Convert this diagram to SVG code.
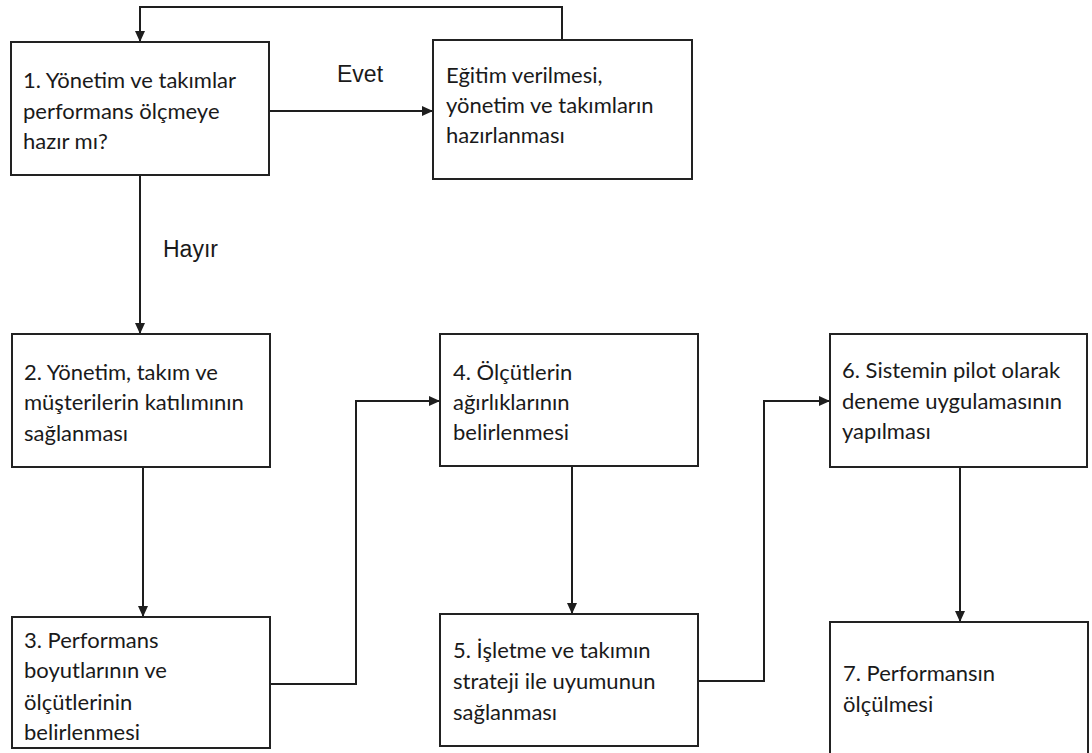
<svg xmlns="http://www.w3.org/2000/svg" width="1092" height="753" viewBox="0 0 1092 753">
  <style>
    .box { fill: #ffffff; stroke: #222222; stroke-width: 2; }
    .lbl { font-family: Lato, "Liberation Sans", sans-serif; font-size: 22px; fill: #1a1a1a; }
    .cond { font-family: "Liberation Sans", Arial, sans-serif; font-size: 23px; fill: #1a1a1a; }
    .wire { fill: none; stroke: #1e1e1e; stroke-width: 2; marker-end: url(#head); }
  </style>
  <defs>
    <marker id="head" markerUnits="userSpaceOnUse" markerWidth="11" markerHeight="10" refX="11" refY="5" orient="auto">
      <path d="M0,0 L11,5 L0,10 Z" fill="#1e1e1e"/>
    </marker>
  </defs>
  <rect width="1092" height="753" fill="#ffffff"/>

  <!-- connectors -->
  <g id="connectors">
    <path class="wire" d="M562,40 V7 H140 V42"/>
    <path class="wire" d="M269,111 H433"/>
    <path class="wire" d="M140,175 V334"/>
    <path class="wire" d="M143,467 V617"/>
    <path class="wire" d="M270,684 H356 V401 H440"/>
    <path class="wire" d="M572,466 V614"/>
    <path class="wire" d="M698,681 H764 V401 H830"/>
    <path class="wire" d="M960,467 V622"/>
    <text class="cond" x="337" y="82">Evet</text>
    <text class="cond" x="163" y="257">Hayır</text>
  </g>

  <g id="step1">
    <rect class="box" x="11" y="42" width="258" height="133"/>
    <text class="lbl" x="23" y="88">1. Yönetim ve takımlar</text>
    <text class="lbl" x="23" y="119">performans ölçmeye</text>
    <text class="lbl" x="23" y="149">hazır mı?</text>
  </g>

  <g id="training">
    <rect class="box" x="433" y="40" width="259" height="139"/>
    <text class="lbl" x="446" y="83">Eğitim verilmesi,</text>
    <text class="lbl" x="446" y="113">yönetim ve takımların</text>
    <text class="lbl" x="446" y="143">hazırlanması</text>
  </g>

  <g id="step2">
    <rect class="box" x="12" y="334" width="258" height="133"/>
    <text class="lbl" x="24" y="380">2. Yönetim, takım ve</text>
    <text class="lbl" x="24" y="410">müşterilerin katılımının</text>
    <text class="lbl" x="24" y="441">sağlanması</text>
  </g>

  <g id="step3">
    <rect class="box" x="12" y="617" width="258" height="131"/>
    <text class="lbl" x="24" y="648">3. Performans</text>
    <text class="lbl" x="24" y="678">boyutlarının ve</text>
    <text class="lbl" x="24" y="710">ölçütlerinin</text>
    <text class="lbl" x="24" y="740">belirlenmesi</text>
  </g>

  <g id="step4">
    <rect class="box" x="440" y="334" width="258" height="132"/>
    <text class="lbl" x="453" y="380">4. Ölçütlerin</text>
    <text class="lbl" x="453" y="410">ağırlıklarının</text>
    <text class="lbl" x="453" y="440">belirlenmesi</text>
  </g>

  <g id="step5">
    <rect class="box" x="440" y="614" width="258" height="132"/>
    <text class="lbl" x="453" y="658">5. İşletme ve takımın</text>
    <text class="lbl" x="453" y="689">strateji ile uyumunun</text>
    <text class="lbl" x="453" y="720">sağlanması</text>
  </g>

  <g id="step6">
    <rect class="box" x="830" y="334" width="257" height="133"/>
    <text class="lbl" x="842" y="378">6. Sistemin pilot olarak</text>
    <text class="lbl" x="842" y="409">deneme uygulamasının</text>
    <text class="lbl" x="842" y="439">yapılması</text>
  </g>

  <g id="step7">
    <rect class="box" x="830" y="622" width="258" height="140"/>
    <text class="lbl" x="843" y="681">7. Performansın</text>
    <text class="lbl" x="843" y="712">ölçülmesi</text>
  </g>
</svg>
